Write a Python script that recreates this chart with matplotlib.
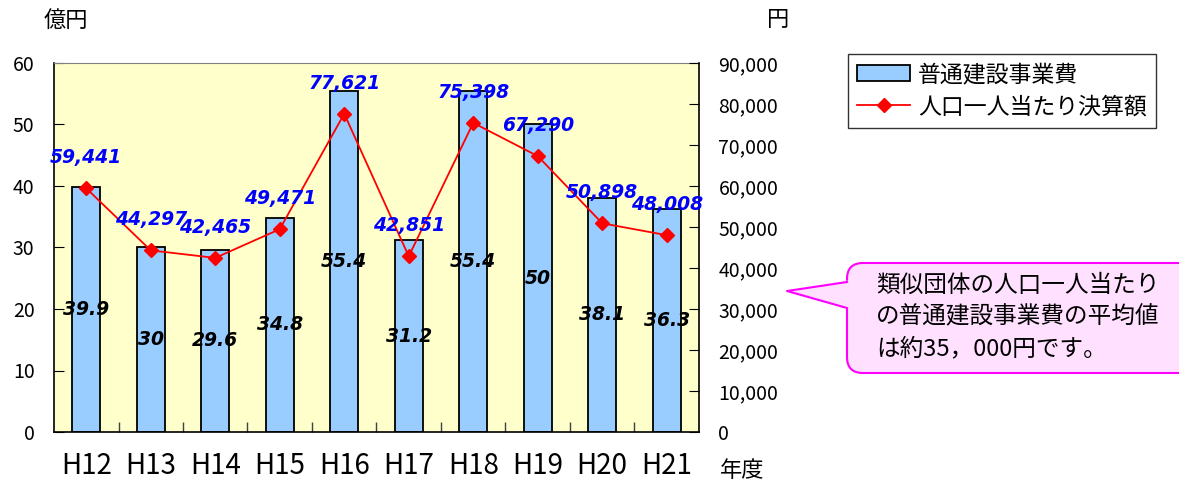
import numpy as np
import matplotlib
matplotlib.use("Agg")
import matplotlib.pyplot as plt
from matplotlib.patches import FancyBboxPatch, Polygon

plt.rcParams['font.family'] = ['Noto Sans CJK JP', 'DejaVu Sans']

# data
years = ["H12", "H13", "H14", "H15", "H16", "H17", "H18", "H19", "H20", "H21"]
construction_cost = [39.9, 30, 29.6, 34.8, 55.4, 31.2, 55.4, 50, 38.1, 36.3]          # 億円
per_capita = [59441, 44297, 42465, 49471, 77621, 42851, 75398, 67290, 50898, 48008]   # 円
left_ticks = [0, 10, 20, 30, 40, 50, 60]
right_ticks = [0, 10000, 20000, 30000, 40000, 50000, 60000, 70000, 80000, 90000]
bar_name = "普通建設事業費"
line_name = "人口一人当たり決算額"
note_lines = ["類似団体の人口一人当たり", "の普通建設事業費の平均値", "は約35，000円です。"]

W, H = 1179, 486
fig = plt.figure(figsize=(W / 100, H / 100), dpi=100)

ax = fig.add_axes([54 / W, 1 - 432 / H, (699 - 54) / W, (432 - 63) / H])
ax.set_facecolor('#FFFFCC')
x = np.arange(len(years))
bars = ax.bar(x, construction_cost, width=0.44, color='#99CCFF',
              edgecolor='black', linewidth=1.3, zorder=2, label=bar_name)
ax.set_xlim(-0.5, len(years) - 0.5)
ax.set_ylim(0, 60)
ax.set_yticks(left_ticks)
ax.set_xticks(x)
ax.set_xticklabels(years, fontsize=20)
ax.set_xticks(x[:-1] + 0.5, minor=True)
ax.tick_params(axis='x', which='major', length=0, pad=14)
ax.tick_params(axis='x', which='minor', direction='in', length=7, width=1, color='#404040')
ax.tick_params(axis='y', direction='in', length=7, labelsize=14, pad=14)
ax.spines['top'].set_color('#808080')
ax.spines['right'].set_visible(False)
ax.spines['left'].set_linewidth(1.2)
ax.spines['bottom'].set_linewidth(1.2)

# value labels inside the bars
for xi, v in zip(x, construction_cost):
    ax.text(xi, v / 2, f"{v:g}", ha='center', va='center', fontsize=13.5,
            fontweight='bold', fontstyle='italic', family='DejaVu Sans', zorder=4)

# secondary axis for the per-capita line
ax2 = ax.twinx()
ax2.set_ylim(0, 90000)
line, = ax2.plot(x, per_capita, color='red', lw=1.3, marker='D', ms=7,
                 label=line_name, zorder=3)
ax2.set_yticks(right_ticks)
ax2.set_yticklabels([f"{v:,}" for v in right_ticks])
ax2.tick_params(axis='y', direction='in', length=7, labelsize=14, pad=14)
for s in ['top', 'left', 'bottom']:
    ax2.spines[s].set_visible(False)
ax2.spines['right'].set_color('black')
ax2.spines['right'].set_linewidth(1.2)

for xi, v in zip(x, per_capita):
    ax2.annotate(f"{v:,}", (xi, v), xytext=(0, 22), textcoords='offset points',
                 ha='center', va='center', color='#0000FF', fontsize=13.5,
                 fontweight='bold', fontstyle='italic', family='DejaVu Sans', zorder=5)

# unit labels
fig.text(66 / W, 1 - 20 / H, "億円", ha='center', va='center', fontsize=16)
fig.text(778 / W, 1 - 20 / H, "円", ha='center', va='center', fontsize=16)
fig.text(742 / W, 1 - 470 / H, "年度", ha='center', va='center', fontsize=16)

# legend
leg = fig.legend(handles=[bars, line], loc='upper left', bbox_to_anchor=(848 / W, 1 - 54 / H),
                 frameon=True, fancybox=False, edgecolor='black', fontsize=16.5,
                 handlelength=2.3, handletextpad=0.35, borderpad=0.4,
                 labelspacing=0.4, borderaxespad=0)
leg.get_frame().set_linewidth(1)

# speech-bubble note drawn on an overlay in pixel units
ov = fig.add_axes([0, 0, 1, 1])
ov.set_xlim(0, W)
ov.set_ylim(H, 0)
ov.axis('off')
ov.patch.set_alpha(0)
box = FancyBboxPatch((847, 263), 400, 110, boxstyle='round,pad=0,rounding_size=16',
                     fc='#FFE1FF', ec='#FF00FF', lw=1.5, zorder=1)
ov.add_patch(box)
ov.add_patch(Polygon([(851, 280), (787, 291), (851, 310)], closed=True,
                     fc='#FFE1FF', ec='none', zorder=2))
ov.plot([847, 787, 847], [282, 291, 308], color='#FF00FF', lw=1.5, zorder=3)
for i, t in enumerate(note_lines):
    ov.text(876, 285 + i * 32, t, ha='left', va='center', fontsize=17, zorder=4)

fig.savefig("out.png", dpi=100)
